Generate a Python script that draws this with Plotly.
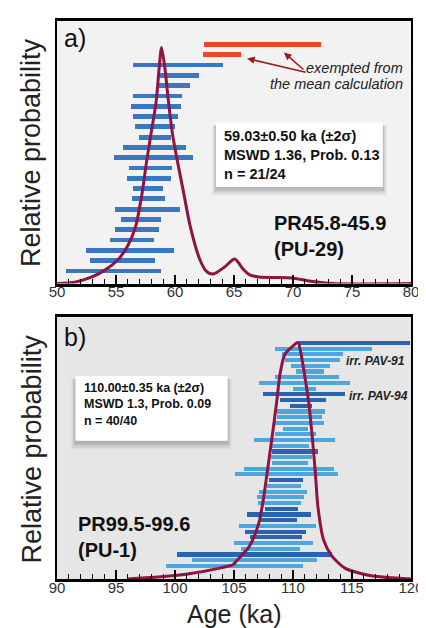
import plotly.graph_objects as go

# ---------------- Panel a data (PR45.8-45.9, PU-29) ----------------
# single-crystal ages, lower/upper (2 sigma), listed top to bottom
a_lo = [56.4, 58.45, 58.45, 56.43, 56.3, 56.43, 56.65, 56.93, 55.63, 54.86, 56.1,
        55.9, 56.43, 56.32, 54.92, 55.44, 54.92, 54.5, 52.44, 52.8, 50.79]
a_hi = [64.1, 62.0, 61.26, 60.6, 60.5, 60.23, 60.04, 59.69, 60.93, 61.53, 59.73,
        59.63, 58.99, 59.13, 60.43, 58.8, 58.61, 58.22, 59.93, 58.33, 58.83]
# exempted from the mean calculation (top to bottom)
a_rej_lo = [62.44, 62.4]
a_rej_hi = [72.36, 65.6]
# relative probability curve
a_curve_age = [50.0, 51.5, 52.8, 54.0, 55.14, 56.0, 56.65, 57.2, 57.6, 57.95, 58.4, 58.65,
               58.86, 59.15, 59.45, 59.8, 60.2, 60.75, 61.3, 62.12, 62.7, 63.26, 64.2,
               65.06, 65.8, 66.3, 67.12, 68.5, 69.9, 71.5, 73.4, 80.0]
a_curve_prob = [0.0, 0.006, 0.025, 0.055, 0.10, 0.16, 0.24, 0.38, 0.52, 0.63, 0.77, 0.91,
                1.0, 0.91, 0.77, 0.63, 0.52, 0.38, 0.24, 0.10, 0.05, 0.041, 0.07,
                0.104, 0.06, 0.038, 0.028, 0.026, 0.024, 0.01, 0.0, 0.0]
a_ticks = [50, 55, 60, 65, 70, 75, 80]

# ---------------- Panel b data (PR99.5-99.6, PU-1) ----------------
b_lo = [110.41, 108.48, 109.03, 109.31, 109.86, 110.27, 108.48, 107.11, 110.0, 107.44,
        108.89, 109.72, 108.62, 108.62, 108.48, 109.17, 108.48, 106.70, 108.21, 108.21,
        108.15, 108.21, 105.87, 105.12, 107.94, 107.80, 107.16, 106.91, 107.05, 107.61,
        106.06, 107.33, 105.46, 105.96, 106.34, 104.99, 105.59, 100.18, 101.47, 99.22]
b_hi = [119.90, 116.73, 114.26, 113.99, 113.16, 112.61, 113.93, 114.81, 111.92, 114.40,
        112.83, 111.65, 112.75, 112.47, 112.61, 111.24, 111.92, 113.57, 111.37, 112.11,
        111.65, 111.29, 113.49, 113.85, 110.83, 110.69, 111.18, 110.96, 110.69, 110.41,
        111.51, 110.30, 111.98, 111.10, 110.74, 111.70, 110.58, 113.30, 112.06, 110.82]
# irradiation batch: 1 = dark bars, 0 = light bars
b_batch = [1, 0, 0, 0, 0, 0, 0, 0, 0, 1,
           1, 1, 0, 0, 0, 0, 0, 0, 0, 1,
           0, 0, 0, 0, 1, 0, 0, 0, 0, 1,
           1, 1, 0, 1, 1, 0, 0, 1, 0, 0]
b_curve_age = [96.0, 98.5, 101.06, 103.8, 104.9, 105.2, 106.3, 107.1, 107.5, 107.8, 108.2,
               108.62, 108.9, 109.31, 109.86, 110.41, 110.69, 111.1, 111.35, 111.65, 111.9,
               112.1, 112.6, 113.3, 114.4, 116.2, 118.0, 120.0]
b_curve_prob = [0.0, 0.008, 0.021, 0.046, 0.06, 0.076, 0.138, 0.236, 0.34, 0.446, 0.59,
                0.75, 0.867, 0.95, 0.979, 1.0, 0.95, 0.825, 0.74, 0.59, 0.446,
                0.31, 0.164, 0.097, 0.046, 0.018, 0.006, 0.0]
b_ticks = [90, 95, 100, 105, 110, 115, 120]

# ---------------- styling ----------------
FONT = "Liberation Sans, Arial, Helvetica, sans-serif"
BLUE = "#3a77c2"
LIGHT = "#4ea6df"
DARK = "#2c63b0"
RED = "#e8482a"
CURVE = "#8e1443"
W, H = 426, 628
ML, MR, MT, MB = 49, 12, 10, 57


def PX(x):
    return (x - ML) / (W - ML - MR)


def PY(y):
    return (H - MB - y) / (H - MT - MB)


fig = go.Figure()

# panel a bars
na = len(a_lo)
a_idx = list(range(na, 0, -1))
fig.add_trace(go.Bar(orientation="h", y=a_idx, base=a_lo,
                     x=[h - l for l, h in zip(a_lo, a_hi)], width=0.47,
                     marker=dict(color=BLUE, line=dict(width=0)),
                     xaxis="x", yaxis="y", showlegend=False))
r_idx = [na + 2, na + 1]
fig.add_trace(go.Bar(orientation="h", y=r_idx, base=a_rej_lo,
                     x=[h - l for l, h in zip(a_rej_lo, a_rej_hi)], width=0.47,
                     marker=dict(color=RED, line=dict(width=0)),
                     xaxis="x", yaxis="y", showlegend=False))
fig.add_trace(go.Scatter(x=a_curve_age, y=a_curve_prob, mode="lines",
                         line=dict(color=CURVE, width=3, shape="spline", smoothing=0.7),
                         xaxis="x", yaxis="y3", showlegend=False))

# panel b bars
nb = len(b_lo)
b_idx = list(range(nb, 0, -1))
fig.add_trace(go.Bar(orientation="h", y=b_idx, base=b_lo,
                     x=[h - l for l, h in zip(b_lo, b_hi)], width=0.72,
                     marker=dict(color=[DARK if d else LIGHT for d in b_batch], line=dict(width=0)),
                     xaxis="x2", yaxis="y2", showlegend=False))
fig.add_trace(go.Scatter(x=b_curve_age, y=b_curve_prob, mode="lines",
                         line=dict(color=CURVE, width=3, shape="spline", smoothing=0.7),
                         xaxis="x2", yaxis="y4", showlegend=False))

dom_a = [PY(274), PY(10)]
dom_b = [PY(571), PY(308)]

xcommon = dict(showline=True, mirror=True, linewidth=2.5, linecolor="black",
               ticks="inside", ticklen=9, tickwidth=1.5, tickcolor="black",
               showgrid=False, zeroline=False,
               tickfont=dict(family=FONT, size=15, color="#333"),
               minor=dict(dtick=1, ticks="inside", ticklen=5, tickwidth=1.2,
                          tickcolor="black", showgrid=False),
               ticklabelstandoff=-7, fixedrange=True)
ycommon = dict(showline=True, mirror=True, linewidth=2, linecolor="black",
               ticks="", showticklabels=False, showgrid=False, zeroline=False,
               fixedrange=True)

fig.update_layout(
    width=W, height=H,
    margin=dict(l=ML, r=MR, t=MT, b=MB),
    paper_bgcolor="white", plot_bgcolor="#f2f2f2",
    barmode="overlay", bargap=0,
    font=dict(family=FONT, color="#222"),
    xaxis=dict(domain=[0, 1], anchor="y", range=[50, 80], tickvals=a_ticks, **xcommon),
    yaxis=dict(domain=dom_a, anchor="x", range=[-0.23, na + 4.28], **ycommon),
    yaxis3=dict(overlaying="y", anchor="x", range=[0, 1.1125], visible=False, fixedrange=True),
    xaxis2=dict(domain=[0, 1], anchor="y2", range=[90, 120], tickvals=b_ticks, **xcommon),
    yaxis2=dict(domain=dom_b, anchor="x2", range=[-1.21, nb + 4.52], **ycommon),
    yaxis4=dict(overlaying="y2", anchor="x2", range=[0, 1.106], visible=False, fixedrange=True),
)

shapes = []
# panel b background
shapes.append(dict(type="rect", xref="x2 domain", yref="y2 domain", x0=0, x1=1, y0=0, y1=1,
                   fillcolor="#e6e6e6", line=dict(width=0), layer="below"))


def box(x0, y0, x1, y1):
    # soft drop shadow
    for k, op in [(7, 0.05), (5, 0.07), (3, 0.09), (1.5, 0.12)]:
        shapes.append(dict(type="rect", xref="paper", yref="paper",
                           x0=PX(x0 - k * 0.6), x1=PX(x1 + k * 0.6),
                           y0=PY(y1 + k + 2), y1=PY(y0 + 3),
                           fillcolor=f"rgba(60,60,60,{op})", line=dict(width=0), layer="above"))
    shapes.append(dict(type="rect", xref="paper", yref="paper",
                       x0=PX(x0), x1=PX(x1), y0=PY(y1), y1=PY(y0),
                       fillcolor="white", line=dict(width=0), layer="above"))


box(213, 112, 385, 177)
box(68, 367, 225, 432)
fig.update_layout(shapes=shapes)

ann = []


def text(x, y, s, size, xanchor="left", bold=False, color="#111", angle=0, yanchor="middle"):
    ann.append(dict(xref="paper", yref="paper", x=PX(x), y=PY(y), text=s,
                    showarrow=False, xanchor=xanchor, yanchor=yanchor, textangle=angle,
                    align="left",
                    font=dict(family=FONT, size=size, color=color,
                              weight="bold" if bold else "normal")))


# panel labels
text(54, 27, "a)", 25)
text(54, 328, "b)", 25)
# axis titles
for yc in (142, 440):
    text(23, yc, "Relative probability", 27, xanchor="center", angle=-90, color="#222")
text(232, 606, "Age (ka)", 25, xanchor="center", color="#222")

# statistics boxes
text(219, 145, "59.03±0.50 ka (±2σ)<br>MSWD 1.36, Prob. 0.13<br>n = 21/24", 14.5, bold=True)
text(75, 396, "110.00±0.35 ka (±2σ)<br>MSWD 1.3, Prob. 0.09<br>n = 40/40", 12.5, bold=True)

# sample names
text(271, 226, "PR45.8-45.9<br>(PU-29)", 20, bold=True)
text(69, 529, "PR99.5-99.6<br>(PU-1)", 20, bold=True)

# exempted note
text(408, 57, "<i>exempted from</i>", 14.5, xanchor="right", color="#222")
text(408, 73, "<i>the mean calculation</i>", 14.5, xanchor="right", color="#222")
for hx, hy, tx, ty in [(245, 47.7, 305, 61.7), (283, 41.7, 304, 60)]:
    ann.append(dict(xref="paper", yref="paper", x=PX(hx), y=PY(hy), text="",
                    showarrow=True, ax=tx - hx, ay=ty - hy, arrowhead=2, arrowsize=1,
                    arrowwidth=1.5, arrowcolor="#9a1c1c", standoff=0))

# irradiation labels
text(345, 352, "<i>irr. PAV-91</i>", 12, bold=True, color="#222")
text(348, 387, "<i>irr. PAV-94</i>", 12, bold=True, color="#222")

fig.update_layout(annotations=ann)
fig.write_html("out.html")
